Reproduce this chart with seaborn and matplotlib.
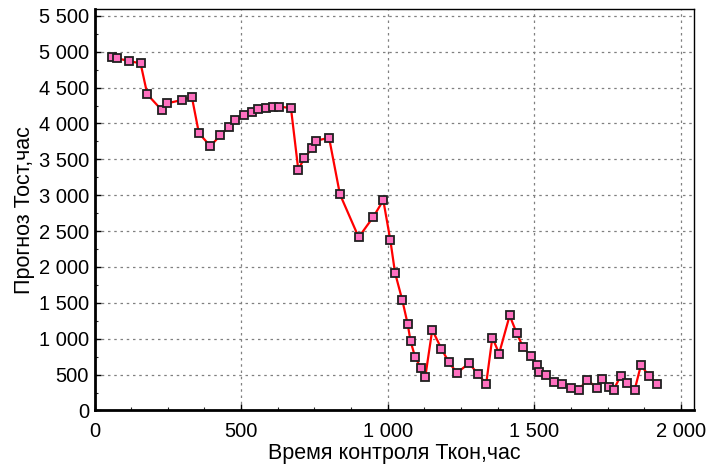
import matplotlib
matplotlib.use("Agg")
import matplotlib.pyplot as plt
import seaborn as sns
import pandas as pd
from matplotlib.ticker import MultipleLocator, FuncFormatter

t_kon = [59, 78, 119, 157, 180, 229, 248, 298, 332, 356, 395, 429, 458, 479, 510,
         537, 559, 585, 610, 628, 670, 695, 716, 742, 757, 800, 837, 901, 951, 985,
         1009, 1025, 1050, 1068, 1078, 1093, 1113, 1128, 1152, 1183, 1208, 1236, 1278,
         1308, 1336, 1357, 1380, 1416, 1440, 1461, 1488, 1510, 1517, 1541, 1567, 1593,
         1624, 1653, 1680, 1713, 1732, 1756, 1771, 1795, 1816, 1842, 1864, 1890, 1918]
t_ost = [4933, 4909, 4867, 4839, 4406, 4187, 4281, 4327, 4369, 3866, 3684, 3834, 3955,
         4048, 4113, 4160, 4201, 4215, 4225, 4235, 4215, 3355, 3522, 3652, 3760, 3801,
         3014, 2414, 2698, 2930, 2374, 1920, 1534, 1208, 966, 752, 589, 463, 1124, 863,
         677, 524, 659, 505, 374, 1017, 793, 1324, 1078, 889, 757, 631, 538, 491, 398,
         374, 314, 291, 430, 314, 440, 333, 291, 486, 380, 282, 635, 486, 370]

x_label = "Время контроля Ткон,час"
y_label = "Прогноз Тост,час"

df = pd.DataFrame({"x": t_kon, "y": t_ost})

sns.set_theme(style="white")
plt.rcParams['font.family'] = ['Liberation Sans', 'DejaVu Sans']

fig = plt.figure(figsize=(7.07, 4.70), dpi=100)
ax = fig.add_axes([0.1337, 0.1266, 0.848, 0.855])

sns.lineplot(data=df, x="x", y="y", sort=False, ax=ax, color="#ff0000",
             linewidth=1.6, marker="s", markersize=5.5, markerfacecolor="#ff70c0",
             markeredgecolor="#202020", markeredgewidth=1.3, zorder=3)

ax.set_xlim(0, 2045)
ax.set_ylim(0, 5600)
ax.xaxis.set_major_locator(MultipleLocator(500))
ax.xaxis.set_minor_locator(MultipleLocator(125))
ax.yaxis.set_major_locator(MultipleLocator(500))
ax.yaxis.set_minor_locator(MultipleLocator(250))

fmt = FuncFormatter(lambda v, p: f"{int(round(v)):,}".replace(",", " "))
ax.xaxis.set_major_formatter(fmt)
ax.yaxis.set_major_formatter(fmt)

ax.grid(True, which="major", color="#808080", linestyle=(0, (2, 3)), linewidth=0.9)
ax.tick_params(axis="x", which="major", pad=8)
ax.tick_params(axis="y", which="major", pad=4)
ax.tick_params(axis="both", which="major", direction="in", length=4, width=1,
               labelsize=14.5, colors="black", left=True, bottom=True)
ax.tick_params(axis="both", which="minor", direction="in", length=2, width=0.8,
               left=True, bottom=True)

for s in ax.spines.values():
    s.set_color("black")
    s.set_linewidth(1.0)
ax.spines["left"].set_linewidth(2)
ax.spines["bottom"].set_linewidth(2)

ax.set_xlabel(x_label, fontsize=15.5, color="black", labelpad=2)
ax.set_ylabel(y_label, fontsize=15.5, color="black", labelpad=3)

fig.savefig("out.png", dpi=100, facecolor="white")
